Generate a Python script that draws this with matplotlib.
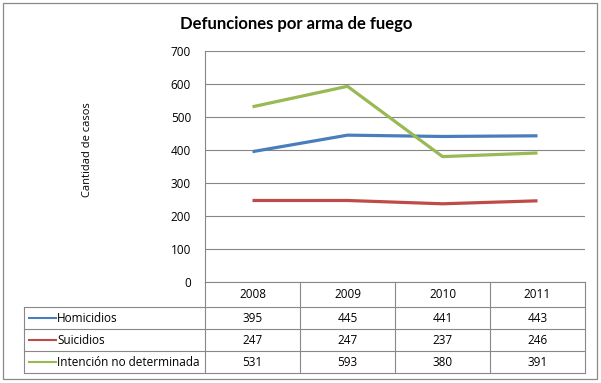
import matplotlib
matplotlib.use('Agg')
import matplotlib.pyplot as plt

years = ['2008', '2009', '2010', '2011']
series_names = ['Homicidios', 'Suicidios', 'Intención no determinada']
homicidios = [395, 445, 441, 443]
suicidios = [247, 247, 237, 246]
indeterminada = [531, 593, 380, 391]
colors = ['#4a7ebb', '#be4b48', '#98b954']

plt.rcParams['font.family'] = ['Open Sans', 'DejaVu Sans']
fs = 8.5

W, H = 601, 383
fig = plt.figure(figsize=(W / 100, H / 100), dpi=100)

# plot area in pixel terms
left, right, top, bottom = 205, 585, 51, 282
ax = fig.add_axes([left / W, 1 - bottom / H, (right - left) / W, (bottom - top) / H])
xs = list(range(len(years)))
for vals, c in zip([homicidios, suicidios, indeterminada], colors):
    ax.plot(xs, vals, color=c, lw=2.3, solid_capstyle='butt', zorder=3)
ax.set_xlim(-0.5, len(years) - 0.5)
ax.set_ylim(0, 700)
ax.set_yticks(range(0, 701, 100))
ax.set_xticks([])
ax.grid(axis='y', color='#868686', lw=0.8)
ax.set_axisbelow(True)
for s in ['top', 'right', 'bottom']:
    ax.spines[s].set_visible(False)
ax.spines['left'].set_color('#868686')
ax.spines['left'].set_linewidth(0.8)
ax.tick_params(axis='y', length=0, pad=10, labelsize=fs, colors='#000000')
ax.patch.set_alpha(0)

# overlay in pixel coordinates for the table, title and border
ov = fig.add_axes([0, 0, 1, 1], zorder=-1)
ov.set_xlim(0, W)
ov.set_ylim(H, 0)
ov.axis('off')

gray = '#888888'
ov.add_patch(plt.Rectangle((3, 3), 594, 376, fill=False, ec=gray, lw=0.9))

ov.text(296, 24, 'Defunciones por arma de fuego', ha='center', va='center',
        fontsize=12, fontweight='bold', family=['Lato', 'DejaVu Sans'])
ov.text(87, 150, 'Cantidad de casos', ha='center', va='center', rotation=90,
        fontsize=8)

col_w = (right - left) / len(years)
row_lines = [307, 329, 351, 373]
tab_left = 24
for y in row_lines:
    ov.plot([tab_left, right], [y, y], color=gray, lw=0.8)
ov.plot([tab_left, tab_left], [row_lines[0], row_lines[-1]], color=gray, lw=0.8)
for i in range(len(years) + 1):
    x = left + i * col_w
    ov.plot([x, x], [bottom, row_lines[-1]], color=gray, lw=0.8)
ov.plot([left, right], [bottom, bottom], color=gray, lw=0.8)

for i, yr in enumerate(years):
    ov.text(left + (i + 0.5) * col_w, (bottom + row_lines[0]) / 2, yr,
            ha='center', va='center', fontsize=fs)

for r, (name, vals, c) in enumerate(zip(series_names,
                                        [homicidios, suicidios, indeterminada],
                                        colors)):
    yc = (row_lines[r] + row_lines[r + 1]) / 2
    ov.plot([29, 56], [yc, yc], color=c, lw=1.5)
    ov.text(57, yc, name, ha='left', va='center', fontsize=fs)
    for i, v in enumerate(vals):
        ov.text(left + (i + 0.5) * col_w, yc, str(v), ha='center', va='center',
                fontsize=fs)

fig.savefig('out.png', dpi=100)
